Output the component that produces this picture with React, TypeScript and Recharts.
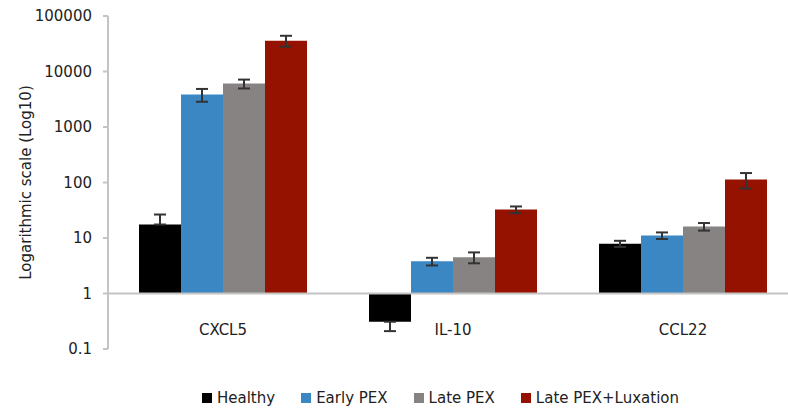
import React from "react";
import { Bar, BarChart, ErrorBar, ReferenceLine, XAxis, YAxis } from "recharts";

const genes = ["CXCL5", "IL-10", "CCL22"];

const healthy = [17.5, 0.31, 7.9];
const healthyErr = [[0, 9], [0.1, 0], [1, 1]];
const earlyPex = [3850, 3.8, 11.1];
const earlyPexErr = [[1000, 1000], [0.6, 0.6], [1.5, 1.5]];
const latePex = [6050, 4.5, 16.1];
const latePexErr = [[1100, 1100], [1, 1], [2.5, 2.5]];
const lateLux = [36000, 32.5, 113];
const lateLuxErr = [[8000, 8000], [4.5, 4.5], [35, 35]];

const yTicks = [0.1, 1, 10, 100, 1000, 10000, 100000];

const series = [
  { key: "healthy", name: "Healthy", color: "#000000" },
  { key: "early", name: "Early PEX", color: "#3a87c4" },
  { key: "late", name: "Late PEX", color: "#878383" },
  { key: "lux", name: "Late PEX+Luxation", color: "#961200" },
];

const data = genes.map((gene, i) => ({
  gene,
  healthy: [1, healthy[i]],
  healthyErr: healthyErr[i],
  early: [1, earlyPex[i]],
  earlyErr: earlyPexErr[i],
  late: [1, latePex[i]],
  lateErr: latePexErr[i],
  lux: [1, lateLux[i]],
  luxErr: lateLuxErr[i],
}));

const font = "'DejaVu Sans', sans-serif";

const GeneTick = (props: any) => {
  const { x, y, payload } = props;
  return (
    <text x={x} y={y} dy={-22} textAnchor="middle" fill="#222" fontSize={15} fontFamily={font}>
      {payload.value}
    </text>
  );
};

export default function App() {
  return (
    <div style={{ position: "fixed", left: 0, top: 0, width: 788, height: 410, overflow: "hidden", background: "#fff" }}>
      <BarChart
        width={800}
        height={410}
        data={data}
        margin={{ top: 16, right: 2, left: 0, bottom: 41 }}
        barCategoryGap={31}
        barGap={0}
      >
        <XAxis
          dataKey="gene"
          height={20}
          axisLine={false}
          tickLine={false}
          tick={<GeneTick />}
        />
        <YAxis
          scale="log"
          domain={[0.1, 100000]}
          ticks={yTicks}
          allowDataOverflow
          width={108}
          axisLine={{ stroke: "#c4c4c4", strokeWidth: 2 }}
          tickLine={{ stroke: "#c4c4c4", strokeWidth: 2 }}
          tickSize={5}
          tickMargin={11}
          tick={{ fill: "#222", fontSize: 15, fontFamily: font }}
          tickFormatter={(v: number) => String(v)}
          label={{
            value: "Logarithmic scale (Log10)",
            angle: -90,
            position: "insideLeft",
            dx: 21,
            style: { textAnchor: "middle", fill: "#222", fontSize: 15, fontFamily: font },
          }}
        />
        <ReferenceLine y={1} stroke="#c4c4c4" strokeWidth={2} />
        {series.map((s) => (
          <Bar key={s.key} dataKey={s.key} name={s.name} fill={s.color} isAnimationActive={false}>
            <ErrorBar dataKey={s.key + "Err"} width={6} stroke="#333" strokeWidth={2} />
          </Bar>
        ))}
      </BarChart>
      <div
        style={{
          position: "absolute",
          left: 202,
          top: 389,
          display: "flex",
          gap: 26,
          fontFamily: font,
          fontSize: 15,
          color: "#222",
          lineHeight: "18px",
        }}
      >
        {series.map((s) => (
          <div key={s.key} style={{ display: "flex", alignItems: "center" }}>
            <span style={{ width: 10, height: 10, background: s.color, marginRight: 5, display: "inline-block" }} />
            <span>{s.name}</span>
          </div>
        ))}
      </div>
    </div>
  );
}
